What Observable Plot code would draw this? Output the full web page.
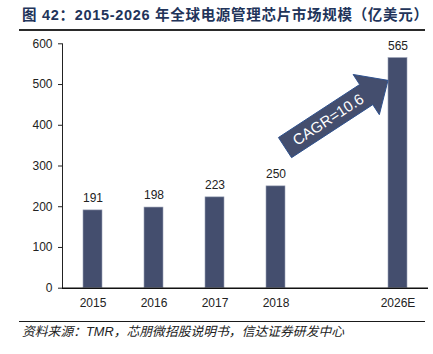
<!DOCTYPE html>
<html>
<head>
<meta charset="utf-8">
<script src="https://cdn.jsdelivr.net/npm/d3@7"></script>
<script src="https://cdn.jsdelivr.net/npm/@observablehq/plot@0.6"></script>
<style>
  body { margin: 0; background: #fff; width: 433px; height: 354px; position: relative; overflow: hidden; }
  #title { position: absolute; left: 19px; top: 0; width: 406px; height: 31px; border-bottom: 2px solid #2a2a2a;
    font-family: "Liberation Sans", Arial, "Noto Sans CJK SC", sans-serif; font-weight: bold; font-size: 14.5px;
    letter-spacing: 0.7px; line-height: 30px; color: #22345a; padding-left: 3px; box-sizing: border-box; white-space: nowrap; }
  #chart { position: absolute; left: 0; top: 34px; }
  #footer { position: absolute; left: 19px; top: 321px; width: 406px; border-top: 1.5px solid #1a1a1a;
    font-family: "Liberation Sans", Arial, "Noto Sans CJK SC", sans-serif; font-style: italic; font-size: 12.8px;
    line-height: 20px; color: #222; padding-left: 3px; box-sizing: border-box; white-space: nowrap; }
</style>
</head>
<body>
<div id="title">图 42：2015-2026 年全球电源管理芯片市场规模（亿美元）</div>
<div id="chart"></div>
<div id="footer">资料来源：TMR，芯朋微招股说明书，信达证券研发中心</div>
<script>
const years = ["2015", "2016", "2017", "2018", "2026E"];
const values = [191, 198, 223, 250, 565];
const xDomain = ["2015", "2016", "2017", "2018", "gap", "2026E"];
const yTicks = [0, 100, 200, 300, 400, 500, 600];
const cagrLabel = "CAGR=10.6";
const arrowFrom = { x: "2018", y: 344 };
const arrowTo = { x: "2026E", y: 509 };

const data = years.map((y, i) => ({ year: y, value: values[i] }));
const barColor = "#444E6E";

const chart = Plot.plot({
  width: 433,
  height: 286,
  marginLeft: 62,
  marginRight: 5,
  marginTop: 9.3,
  marginBottom: 32.3,
  style: { fontFamily: "'Liberation Sans', Arial, sans-serif", fontSize: "12px", color: "#222", background: "#fff" },
  x: { domain: xDomain, paddingInner: 0.69, paddingOuter: 0.345, label: null, tickSize: 0, tickPadding: 10,
       tickFormat: d => d === "gap" ? "" : d },
  y: { domain: [0, 600], ticks: yTicks, label: null, tickSize: 4, tickPadding: 6, line: true },
  marks: [
    Plot.barY(data, { x: "year", y: "value", fill: barColor, stroke: "#9aa1b6", strokeWidth: 0.6 }),
    Plot.text(data, { x: "year", y: "value", text: d => String(d.value), dy: -12, fontSize: 12, fill: "#222" }),
    Plot.ruleY([0], { stroke: "#111", strokeWidth: 1.5 })
  ]
});
document.getElementById("chart").appendChild(chart);

// Block arrow annotation positioned through the plot's scales
const svg = chart.tagName.toLowerCase() === "svg" ? chart : chart.querySelector("svg");
const xs = chart.scale("x"), ys = chart.scale("y");
const tail = [xs.apply(arrowFrom.x) + xs.bandwidth, ys.apply(arrowFrom.y)];
const tip = [xs.apply(arrowTo.x), ys.apply(arrowTo.y)];
const dx = tip[0] - tail[0], dy = tip[1] - tail[1];
const L = Math.hypot(dx, dy);
const u = [dx / L, dy / L];
const n = [-u[1], u[0]];
const headLen = 26, sh = 12, hh = 24;
const base = [tip[0] - u[0] * headLen, tip[1] - u[1] * headLen];
const P = (p, k) => [p[0] + n[0] * k, p[1] + n[1] * k];
const pts = [P(tail, sh), P(base, sh), P(base, hh), tip, P(base, -hh), P(base, -sh), P(tail, -sh)];
const g = d3.select(svg).append("g");
g.append("polygon")
  .attr("points", pts.map(p => p.join(",")).join(" "))
  .attr("fill", barColor)
  .attr("stroke", "#2F528F")
  .attr("stroke-width", 1);
const mid = [(tail[0] + base[0]) / 2 + u[0] * 3, (tail[1] + base[1]) / 2 + u[1] * 3];
const ang = Math.atan2(dy, dx) * 180 / Math.PI;
g.append("text")
  .attr("transform", `translate(${mid[0]},${mid[1]}) rotate(${ang})`)
  .attr("text-anchor", "middle")
  .attr("dy", "0.35em")
  .attr("fill", "#fff")
  .attr("font-size", 15)
  .attr("font-family", "'Liberation Sans', Arial, sans-serif")
  .text(cagrLabel);
</script>
</body>
</html>
